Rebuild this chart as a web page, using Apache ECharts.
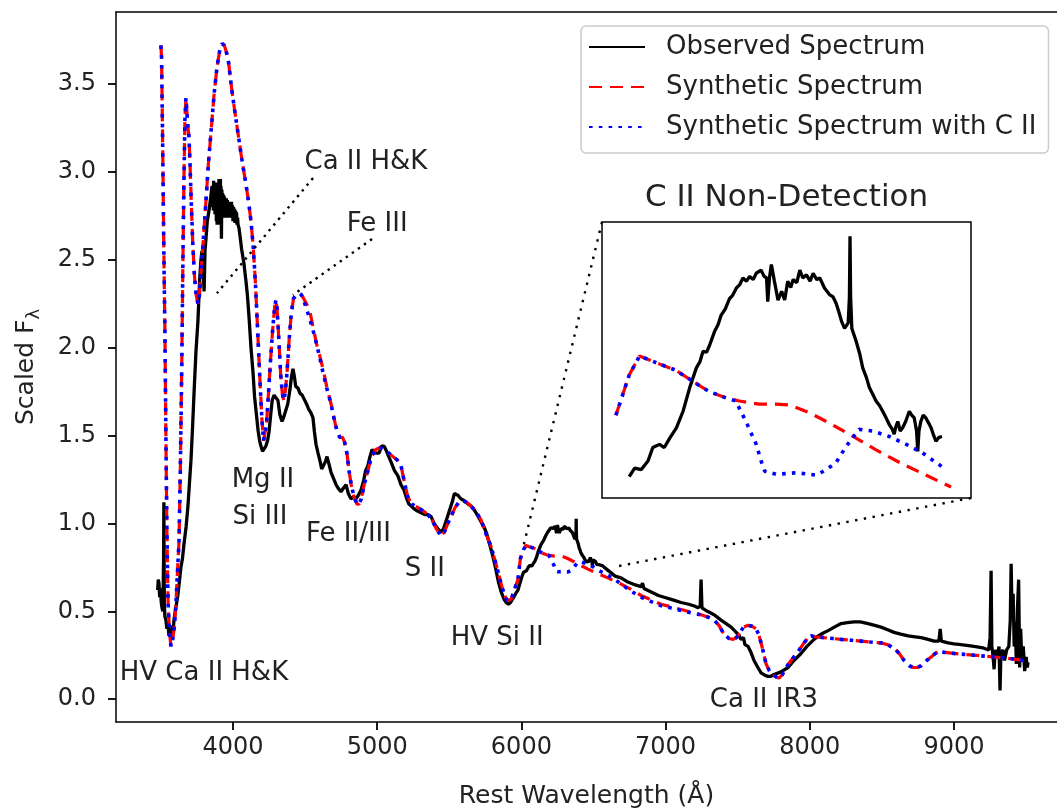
<!DOCTYPE html>
<html><head><meta charset="utf-8">
<script src="https://cdn.jsdelivr.net/npm/echarts@6/dist/echarts.min.js"></script>
<style>html,body{margin:0;padding:0;background:#fff}#c{width:1057px;height:811px}</style>
</head><body><div id="c"></div>
<script>
// ---------------- data ----------------
const xTicks = [4000, 5000, 6000, 7000, 8000, 9000];
const yTicks = [0, 0.5, 1.0, 1.5, 2.0, 2.5, 3.0, 3.5];

const observedSpectrum = [
[3478,0.62],[3482,0.68],[3487,0.66],[3492,0.58],[3497,0.63],[3503,0.55],[3508,0.52],[3514,0.50],[3519,0.80],[3521,1.12],
[3524,0.55],[3528,0.47],[3535,0.45],[3542,0.40],[3549,0.44],[3556,0.36],[3563,0.40],[3570,0.35],[3578,0.42],[3585,0.38],
[3591,0.45],[3600,0.50],[3612,0.56],[3619,0.60],[3630,0.68],[3639,0.75],[3650,0.80],[3660,0.88],[3675,0.98],[3688,1.10],
[3700,1.25],[3709,1.36],[3720,1.55],[3730,1.74],[3743,1.97],[3757,2.15],[3770,2.40],[3778,2.50],[3785,2.55],[3792,2.48],
[3800,2.32],[3806,2.55],[3813,2.62],[3822,2.72],[3834,2.78],[3845,2.85],[3855,2.92],[3858,2.80],[3861,2.90],[3864,2.78],
[3866,2.95],[3869,2.82],[3872,2.93],[3875,2.76],[3877,2.94],[3880,2.80],[3882,2.92],[3885,2.72],[3888,2.94],[3890,2.70],
[3893,2.93],[3896,2.78],[3898,2.90],[3901,2.74],[3903,2.96],[3906,2.72],[3908,2.92],[3911,2.70],[3913,2.96],[3915,2.76],
[3917,2.92],[3920,2.62],[3923,2.90],[3925,2.74],[3928,2.88],[3932,2.74],[3935,2.87],[3938,2.76],[3941,2.86],[3944,2.74],
[3947,2.84],[3951,2.76],[3954,2.85],[3958,2.74],[3961,2.84],[3965,2.75],[3968,2.83],[3972,2.74],[3976,2.82],[3980,2.75],
[3983,2.82],[3986,2.74],[3990,2.83],[3993,2.76],[3997,2.81],[4000,2.72],[4004,2.80],[4007,2.73],[4011,2.79],[4014,2.71],
[4018,2.78],[4021,2.72],[4025,2.77],[4028,2.70],[4032,2.74],[4035,2.70],[4042,2.68],[4050,2.63],[4060,2.56],
[4076,2.48],[4090,2.38],[4100,2.30],[4111,2.18],[4125,2.00],[4139,1.86],[4150,1.72],[4160,1.64],[4174,1.53],[4185,1.47],
[4194,1.44],[4205,1.41],[4215,1.42],[4228,1.44],[4240,1.47],[4250,1.52],[4262,1.62],[4272,1.70],[4285,1.73],[4298,1.74],
[4312,1.70],[4325,1.62],[4340,1.58],[4350,1.60],[4365,1.64],[4380,1.68],[4395,1.76],[4405,1.83],[4416,1.88],[4425,1.84],
[4435,1.78],[4451,1.77],[4465,1.74],[4480,1.73],[4492,1.71],[4510,1.68],[4525,1.65],[4540,1.63],[4555,1.60],[4565,1.52],
[4576,1.45],[4590,1.40],[4605,1.35],[4615,1.31],[4624,1.30],[4640,1.35],[4652,1.38],[4665,1.34],[4680,1.29],[4700,1.25],
[4715,1.22],[4730,1.20],[4749,1.18],[4765,1.20],[4784,1.22],[4800,1.17],[4818,1.14],[4835,1.15],[4853,1.14],[4870,1.16],
[4888,1.19],[4905,1.24],[4920,1.30],[4936,1.33],[4950,1.38],[4965,1.42],[4978,1.43],[4990,1.40],[5000,1.39],[5013,1.40],
[5030,1.44],[5047,1.44],[5060,1.42],[5075,1.39],[5096,1.35],[5120,1.30],[5144,1.27],[5165,1.22],[5186,1.19],[5205,1.14],
[5220,1.11],[5234,1.10],[5260,1.08],[5280,1.07],[5304,1.06],[5330,1.05],[5352,1.05],[5373,1.04],[5395,1.00],[5420,0.97],
[5442,0.95],[5460,0.97],[5480,1.02],[5500,1.07],[5520,1.12],[5535,1.17],[5546,1.18],[5560,1.16],[5580,1.14],[5602,1.13],
[5630,1.11],[5650,1.10],[5671,1.08],[5700,1.04],[5720,1.01],[5741,0.98],[5760,0.94],[5780,0.88],[5800,0.82],[5820,0.75],
[5840,0.67],[5860,0.61],[5879,0.57],[5895,0.55],[5910,0.54],[5925,0.55],[5940,0.57],[5960,0.60],[5976,0.62],[5990,0.66],
[6005,0.70],[6015,0.722],[6024,0.733],[6035,0.731],[6046,0.742],[6054,0.759],[6065,0.763],[6073,0.759],[6082,0.771],[6093,0.784],
[6104,0.805],[6115,0.835],[6126,0.860],[6132,0.868],[6137,0.881],[6143,0.880],[6148,0.889],[6156,0.906],[6162,0.915],[6167,0.927],
[6174,0.935],[6181,0.948],[6186,0.952],[6192,0.961],[6198,0.966],[6203,0.974],[6209,0.970],[6214,0.976],[6220,0.972],[6225,0.980],
[6233,0.984],[6238,0.976],[6242,0.974],[6244,0.944],[6247,0.975],[6250,0.991],[6255,0.970],[6261,0.946],[6267,0.957],[6272,0.946],
[6277,0.970],[6282,0.962],[6286,0.972],[6292,0.968],[6297,0.984],[6302,0.974],[6308,0.978],[6314,0.970],[6319,0.980],[6325,0.972],
[6330,0.974],[6338,0.961],[6346,0.953],[6352,0.950],[6357,0.942],[6362,0.930],[6366,0.919],[6371,0.910],[6377,0.917],[6379,0.950],
[6380,1.027],[6381,0.950],[6383,0.910],[6390,0.894],[6396,0.878],[6401,0.860],[6407,0.848],[6412,0.835],[6418,0.826],[6423,0.818],
[6429,0.812],[6434,0.805],[6440,0.796],[6445,0.788],[6450,0.782],[6453,0.776],[6456,0.786],[6459,0.792],[6463,0.780],[6467,0.784],
[6472,0.792],[6478,0.805],[6482,0.800],[6486,0.797],[6490,0.780],[6492,0.754],[6494,0.780],[6497,0.792],[6501,0.800],[6505,0.797],
[6510,0.790],[6514,0.784],[6518,0.775],[6522,0.767],[6527,0.772],[6532,0.773],[6540,0.765],[6560,0.760],[6590,0.740],[6620,0.720],
[6650,0.700],[6691,0.690],[6730,0.670],[6760,0.660],[6790,0.650],[6830,0.640],[6840,0.660],[6850,0.630],[6900,0.610],[6950,0.590],
[6990,0.580],[7050,0.565],[7107,0.550],[7160,0.540],[7200,0.530],[7225,0.520],[7240,0.530],[7246,0.680],[7252,0.520],[7290,0.500],
[7336,0.480],[7360,0.465],[7384,0.450],[7420,0.430],[7454,0.410],[7490,0.380],[7510,0.360],[7523,0.340],[7540,0.350],[7550,0.310],
[7572,0.300],[7590,0.270],[7613,0.220],[7640,0.180],[7662,0.150],[7690,0.135],[7710,0.130],[7730,0.130],[7752,0.140],[7800,0.155],
[7849,0.180],[7890,0.220],[7939,0.260],[7980,0.300],[8029,0.340],[8060,0.360],[8090,0.375],[8127,0.390],[8170,0.410],[8217,0.430],
[8260,0.435],[8307,0.440],[8350,0.440],[8404,0.430],[8450,0.420],[8494,0.410],[8540,0.395],[8584,0.380],[8630,0.370],[8682,0.360],
[8730,0.355],[8772,0.350],[8820,0.340],[8862,0.330],[8895,0.330],[8904,0.400],[8912,0.330],[8959,0.320],[9000,0.315],[9049,0.310],
[9100,0.305],[9139,0.300],[9180,0.295],[9208,0.290],[9240,0.280],[9250,0.350],[9257,0.730],[9262,0.300],[9270,0.250],[9278,0.170],
[9285,0.280],[9300,0.240],[9312,0.300],[9319,0.050],[9325,0.260],[9340,0.280],[9350,0.220],[9365,0.280],[9380,0.300],[9390,0.450],
[9396,0.770],[9402,0.500],[9410,0.600],[9417,0.300],[9425,0.440],[9432,0.200],[9440,0.520],[9448,0.680],[9455,0.180],[9462,0.400],
[9470,0.220],[9480,0.300],[9490,0.160],[9500,0.240],[9508,0.180],[9513,0.210]
];

const syntheticSpectrum = [
[3500,3.72],[3505,3.65],[3512,3.20],[3520,2.60],[3528,2.10],[3535,1.50],[3542,0.95],[3550,0.55],[3560,0.38],[3570,0.30],
[3580,0.33],[3595,0.42],[3605,0.55],[3615,0.72],[3626,0.90],[3635,1.30],[3645,1.90],[3653,2.50],[3660,2.95],[3667,3.30],
[3674,3.42],[3680,3.35],[3688,3.25],[3695,3.20],[3702,3.05],[3710,2.85],[3720,2.62],[3732,2.42],[3745,2.30],[3757,2.25],
[3768,2.30],[3780,2.45],[3795,2.62],[3810,2.80],[3830,3.05],[3850,3.25],[3870,3.45],[3890,3.60],[3910,3.70],[3925,3.73],
[3940,3.72],[3955,3.68],[3970,3.62],[3990,3.48],[4010,3.36],[4035,3.22],[4060,3.08],[4090,2.93],[4110,2.82],[4125,2.72],
[4140,2.58],[4155,2.38],[4170,2.12],[4185,1.85],[4200,1.60],[4212,1.47],[4220,1.46],[4232,1.56],[4245,1.72],[4260,1.92],
[4275,2.10],[4290,2.24],[4298,2.27],[4306,2.22],[4318,2.05],[4330,1.86],[4342,1.74],[4352,1.70],[4362,1.74],[4375,1.86],
[4390,2.05],[4405,2.20],[4420,2.28],[4440,2.30],[4460,2.31],[4475,2.30],[4490,2.28],[4510,2.25],[4530,2.22],[4555,2.12],
[4580,2.02],[4600,1.96],[4624,1.88],[4650,1.78],[4680,1.68],[4700,1.60],[4720,1.53],[4740,1.49],[4760,1.49],[4775,1.46],
[4790,1.40],[4805,1.30],[4820,1.22],[4840,1.15],[4860,1.11],[4874,1.11],[4890,1.14],[4910,1.22],[4936,1.30],[4960,1.38],
[4990,1.42],[5020,1.43],[5050,1.42],[5080,1.40],[5110,1.38],[5140,1.36],[5165,1.33],[5190,1.23],[5213,1.15],[5240,1.11],
[5283,1.09],[5320,1.07],[5352,1.05],[5380,1.02],[5410,0.97],[5442,0.93],[5465,0.95],[5490,1.00],[5512,1.04],[5540,1.09],
[5565,1.12],[5590,1.13],[5620,1.12],[5650,1.10],[5690,1.06],[5720,1.02],[5750,0.95],[5789,0.87],[5820,0.78],[5840,0.72],
[5858,0.66],[5880,0.60],[5900,0.56],[5913,0.55],[5930,0.57],[5950,0.62],[5976,0.68],[5993,0.80],[6015,0.851],[6032,0.875],
[6065,0.865],[6092,0.857],[6120,0.843],[6147,0.830],[6175,0.822],[6197,0.818],[6230,0.814],[6258,0.814],[6280,0.813],[6313,0.803],
[6346,0.790],[6385,0.773],[6423,0.756],[6462,0.740],[6500,0.726],[6547,0.709],[6600,0.690],[6650,0.670],[6691,0.655],[6760,0.625],
[6830,0.590],[6900,0.565],[6968,0.540],[7040,0.525],[7107,0.510],[7180,0.495],[7246,0.480],[7300,0.465],[7336,0.450],[7370,0.420],
[7405,0.370],[7440,0.345],[7468,0.340],[7490,0.350],[7510,0.370],[7540,0.410],[7572,0.420],[7600,0.415],[7627,0.400],[7645,0.370],
[7662,0.320],[7680,0.260],[7697,0.200],[7720,0.160],[7745,0.140],[7770,0.125],[7786,0.120],[7810,0.140],[7835,0.180],[7870,0.220],
[7918,0.270],[7960,0.320],[7990,0.350],[8008,0.360],[8040,0.355],[8098,0.350],[8160,0.345],[8217,0.340],[8290,0.335],[8355,0.330],
[8420,0.325],[8494,0.320],[8540,0.310],[8584,0.290],[8620,0.260],[8654,0.220],[8690,0.190],[8717,0.180],[8745,0.180],[8772,0.190],
[8810,0.220],[8841,0.240],[8870,0.260],[8890,0.270],[8950,0.265],[9000,0.260],[9070,0.255],[9139,0.250],[9210,0.245],[9278,0.240],
[9340,0.235],[9396,0.230],[9440,0.225],[9478,0.220],[9500,0.220]
];

const syntheticWithCII = [
[3500,3.72],[3505,3.65],[3512,3.20],[3520,2.60],[3528,2.10],[3535,1.50],[3542,0.95],[3550,0.55],[3560,0.38],[3570,0.30],
[3580,0.33],[3595,0.42],[3605,0.55],[3615,0.72],[3626,0.90],[3635,1.30],[3645,1.90],[3653,2.50],[3660,2.95],[3667,3.30],
[3674,3.42],[3680,3.35],[3688,3.25],[3695,3.20],[3702,3.05],[3710,2.85],[3720,2.62],[3732,2.42],[3745,2.30],[3757,2.25],
[3768,2.30],[3780,2.45],[3795,2.62],[3810,2.80],[3830,3.05],[3850,3.25],[3870,3.45],[3890,3.60],[3910,3.70],[3925,3.73],
[3940,3.72],[3955,3.68],[3970,3.62],[3990,3.48],[4010,3.36],[4035,3.22],[4060,3.08],[4090,2.93],[4110,2.82],[4125,2.72],
[4140,2.58],[4155,2.38],[4170,2.12],[4185,1.85],[4200,1.60],[4212,1.47],[4220,1.46],[4232,1.56],[4245,1.72],[4260,1.92],
[4275,2.10],[4290,2.24],[4298,2.27],[4306,2.22],[4318,2.05],[4330,1.86],[4342,1.74],[4352,1.70],[4362,1.74],[4375,1.86],
[4390,2.05],[4405,2.20],[4420,2.28],[4440,2.30],[4460,2.31],[4475,2.30],[4490,2.27],[4510,2.22],[4530,2.17],[4555,2.10],
[4580,2.02],[4600,1.95],[4624,1.86],[4650,1.77],[4680,1.68],[4700,1.60],[4720,1.53],[4740,1.49],[4760,1.49],[4775,1.46],
[4790,1.40],[4805,1.30],[4820,1.22],[4840,1.15],[4860,1.11],[4874,1.11],[4890,1.14],[4910,1.22],[4936,1.30],[4960,1.38],
[4990,1.42],[5020,1.43],[5050,1.42],[5080,1.40],[5110,1.38],[5140,1.36],[5165,1.33],[5190,1.23],[5213,1.15],[5240,1.11],
[5283,1.09],[5320,1.07],[5352,1.05],[5380,1.02],[5410,0.97],[5442,0.93],[5465,0.95],[5490,1.00],[5512,1.04],[5540,1.09],
[5565,1.12],[5590,1.13],[5620,1.12],[5650,1.10],[5690,1.06],[5720,1.02],[5750,0.95],[5789,0.87],[5820,0.78],[5840,0.72],
[5858,0.66],[5880,0.60],[5900,0.56],[5913,0.55],[5930,0.57],[5950,0.62],[5976,0.68],[5993,0.80],[6015,0.851],[6032,0.875],
[6065,0.865],[6092,0.857],[6120,0.843],[6147,0.830],[6175,0.822],[6191,0.818],[6208,0.792],[6225,0.763],[6233,0.742],[6239,0.729],
[6258,0.725],[6291,0.727],[6324,0.724],[6341,0.731],[6357,0.740],[6374,0.761],[6395,0.782],[6417,0.780],[6445,0.773],[6473,0.763],
[6500,0.752],[6539,0.731],[6600,0.705],[6650,0.680],[6691,0.655],[6760,0.615],[6830,0.580],[6900,0.555],[6968,0.532],[7040,0.518],
[7107,0.505],[7180,0.490],[7246,0.480],[7300,0.465],[7336,0.450],[7370,0.420],[7405,0.370],[7440,0.345],[7468,0.340],[7490,0.350],
[7510,0.370],[7540,0.410],[7572,0.420],[7600,0.415],[7627,0.400],[7645,0.370],[7662,0.320],[7680,0.260],[7697,0.200],[7720,0.160],
[7745,0.140],[7770,0.125],[7786,0.120],[7810,0.140],[7835,0.180],[7870,0.220],[7918,0.270],[7960,0.320],[7990,0.350],[8008,0.360],
[8040,0.355],[8098,0.350],[8160,0.345],[8217,0.340],[8290,0.335],[8355,0.330],[8420,0.325],[8494,0.320],[8540,0.310],[8584,0.290],
[8620,0.260],[8654,0.220],[8690,0.190],[8717,0.180],[8745,0.180],[8772,0.190],[8810,0.220],[8841,0.240],[8870,0.260],[8890,0.270],
[8950,0.265],[9000,0.260],[9070,0.255],[9139,0.250],[9210,0.245],[9278,0.240],[9340,0.235],[9396,0.230],[9440,0.225],[9478,0.220],
[9500,0.220]
];

// line identifications: [text, wavelength, flux]
const lineLabels = [
['Ca II H&K', 4922, 3.055],
['Fe III', 5000, 2.705],
['Mg II', 4208, 1.245],
['Si III', 4187, 1.035],
['Fe II/III', 4801, 0.94],
['S II', 5331, 0.742],
['HV Si II', 5832, 0.345],
['HV Ca II H&K', 3799, 0.145],
['Ca II IR3', 7682, -0.005]
];
// dotted pointer lines: [[text end], [feature end]]
const pointerLines = [
[[4555, 2.965], [3889, 2.31]],
[[4964, 2.618], [4416, 2.30]]
];
// zoomed region (wavelength, flux ranges) and where the connectors meet the main panel
const insetX = [5970, 6580];
const insetY = [0.695, 1.045];
const insetObsRange = [6010, 6535];
const insetSynRange = [5990, 6550];
const insetSynCRange = [5990, 6545];
const connectorTargets = [[6011, 0.859], [6635, 0.751]];
const mainX = [3189, 9714];
const mainY = [-0.13, 3.91];

// ---------------- layout ----------------
const FONT = 'DejaVu Sans';
const TXT = '#222';
const mainGrid = {left: 116, top: 12, right: 0, height: 710};
const insetGrid = {left: 602, top: 222, width: 369, height: 276};

const clipRange = (arr, r) => arr.filter(p => p[0] >= r[0] && p[0] <= r[1]);

const obsStyle = {color: '#000', width: 3.3};
const synStyle = {color: '#ff0000', width: 3.2, type: [13, 8]};
const cStyle = {color: '#0000ff', width: 3.6, type: [3.6, 6.2]};

function lineSeries(name, data, style, xi, yi, z) {
  return {
    type: 'line', name, data, xAxisIndex: xi, yAxisIndex: yi,
    symbol: 'none', showSymbol: false, smooth: false, z,
    lineStyle: style, itemStyle: {color: style.color},
    emphasis: {disabled: true}, silent: true, clip: true
  };
}

const chart = echarts.init(document.getElementById('c'), null, {renderer: 'canvas'});
const option = {
  animation: false,
  backgroundColor: '#fff',
  textStyle: {fontFamily: FONT},
  grid: [
    Object.assign({show: false, containLabel: false, outerBoundsMode: 'none'}, mainGrid),
    Object.assign({show: true, borderColor: '#000', borderWidth: 1.5, backgroundColor: '#fff',
                   containLabel: false, outerBoundsMode: 'none'}, insetGrid)
  ],
  xAxis: [
    {type: 'value', gridIndex: 0, min: mainX[0], max: mainX[1],
     axisLine: {show: true, onZero: false, lineStyle: {color: '#000', width: 1.5}},
     axisTick: {show: true, customValues: xTicks, length: 8, lineStyle: {color: '#000', width: 1.8}},
     axisLabel: {customValues: xTicks, fontSize: 24, color: TXT, margin: 14, fontFamily: FONT,
                 formatter: v => String(v)},
     splitLine: {show: false},
     name: 'Rest Wavelength (Å)', nameLocation: 'middle', nameGap: 62,
     nameTextStyle: {fontSize: 25, color: TXT, fontFamily: FONT}},
    {type: 'value', gridIndex: 0, position: 'top', min: mainX[0], max: mainX[1],
     axisLine: {show: true, onZero: false, lineStyle: {color: '#000', width: 1.5}},
     axisTick: {show: false}, axisLabel: {show: false}, splitLine: {show: false}},
    {type: 'value', gridIndex: 1, min: insetX[0], max: insetX[1], show: false}
  ],
  yAxis: [
    {type: 'value', gridIndex: 0, min: mainY[0], max: mainY[1],
     axisLine: {show: true, onZero: false, lineStyle: {color: '#000', width: 1.5}},
     axisTick: {show: true, customValues: yTicks, length: 8, lineStyle: {color: '#000', width: 1.8}},
     axisLabel: {customValues: yTicks, fontSize: 24, color: TXT, margin: 20, fontFamily: FONT,
                 formatter: v => v.toFixed(1)},
     splitLine: {show: false},
     name: 'Scaled F{s|λ}', nameLocation: 'middle', nameGap: 73, nameRotate: 90,
     nameTextStyle: {fontSize: 25, color: TXT, fontFamily: FONT,
       rich: {s: {fontSize: 18, color: TXT, fontFamily: FONT, padding: [16, 0, 0, 0], verticalAlign: 'bottom'}}}},
    {type: 'value', gridIndex: 1, min: insetY[0], max: insetY[1], show: false}
  ],
  legend: {
    data: ['Observed Spectrum', 'Synthetic Spectrum', 'Synthetic Spectrum with C II'],
    orient: 'vertical', left: 581, top: 26,
    itemWidth: 56, itemHeight: 20, itemGap: 10,
    padding: [6, 12, 11, 7],
    backgroundColor: 'rgba(255,255,255,0.8)', borderColor: '#cccccc', borderWidth: 1.5, borderRadius: 5,
    selectedMode: false,
    itemStyle: {opacity: 0},
    textStyle: {fontSize: 26, fontFamily: FONT, color: TXT, lineHeight: 30, padding: [0, 0, 0, 16]}
  },
  series: [
    lineSeries('Observed Spectrum', observedSpectrum, obsStyle, 0, 0, 2),
    lineSeries('Synthetic Spectrum', syntheticSpectrum, synStyle, 0, 0, 3),
    lineSeries('Synthetic Spectrum with C II', syntheticWithCII, cStyle, 0, 0, 4),
    lineSeries('Observed Spectrum', clipRange(observedSpectrum, insetObsRange), obsStyle, 2, 1, 2),
    lineSeries('Synthetic Spectrum', clipRange(syntheticSpectrum, insetSynRange), synStyle, 2, 1, 3),
    lineSeries('Synthetic Spectrum with C II', clipRange(syntheticWithCII, insetSynCRange), cStyle, 2, 1, 4),
    {type: 'lines', coordinateSystem: 'cartesian2d', xAxisIndex: 0, yAxisIndex: 0, silent: true, z: 5,
     lineStyle: {color: '#000', width: 2.4, type: [2.4, 5], opacity: 1, curveness: 0},
     data: pointerLines.map(c => ({coords: c}))}
  ]
};
chart.setOption(option);

// inset connectors, inset title and line identifications
const ig = insetGrid;
const cornerTL = [ig.left, ig.top];
const cornerBR = [ig.left + ig.width, ig.top + ig.height];
const toPx = p => chart.convertToPixel({xAxisIndex: 0, yAxisIndex: 0}, p);
const t1 = toPx(connectorTargets[0]);
const t2 = toPx(connectorTargets[1]);
const dotted = {stroke: '#000', lineWidth: 2.4, lineDash: [2.4, 6.5]};
const graphics = [
  {type: 'line', z: 1, silent: true, shape: {x1: cornerTL[0], y1: cornerTL[1], x2: t1[0], y2: t1[1]}, style: dotted},
  {type: 'line', z: 1, silent: true, shape: {x1: cornerBR[0], y1: cornerBR[1], x2: t2[0], y2: t2[1]}, style: dotted},
  {type: 'text', z: 10, silent: true, x: ig.left + ig.width / 2, y: ig.top - 24,
   style: {text: 'C II Non-Detection', font: '31px "DejaVu Sans"', fill: TXT, textAlign: 'center', textVerticalAlign: 'middle'}}
];
lineLabels.forEach(d => {
  const p = toPx([d[1], d[2]]);
  graphics.push({type: 'text', z: 10, silent: true, x: p[0], y: p[1],
    style: {text: d[0], font: '26px "DejaVu Sans"', fill: TXT, textAlign: 'center', textVerticalAlign: 'middle'}});
});
chart.setOption({graphic: graphics});
</script></body></html>
